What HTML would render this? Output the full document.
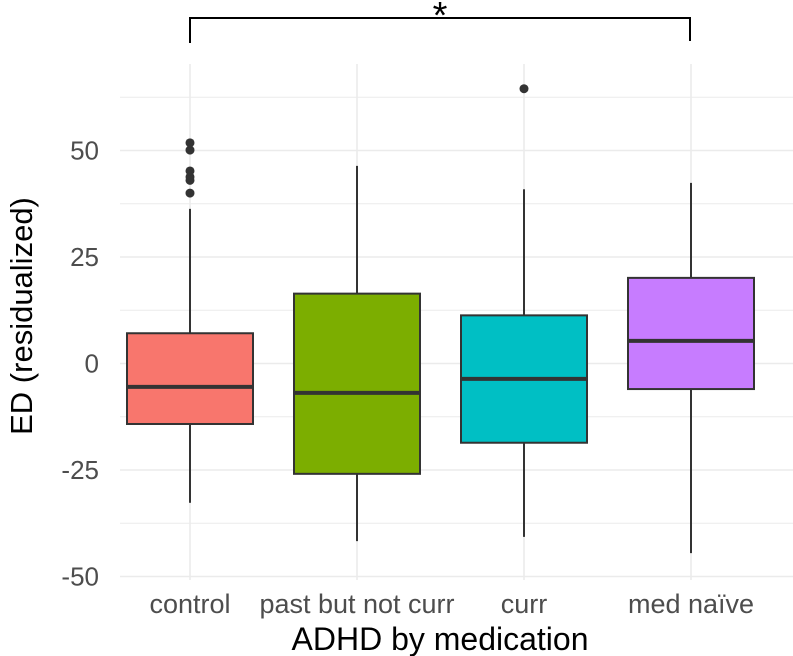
<!DOCTYPE html>
<html><head><meta charset="utf-8"><style>
body{margin:0;background:#fff}
svg{display:block;font-family:"Liberation Sans",Arial,sans-serif}
</style></head><body>
<svg id="chart" width="793" height="656" viewBox="0 0 793 656">
<g id="grid"></g><g id="boxes"></g><g id="axes"></g>
<g>
<path d="M190,43 V18 H690 V41" fill="none" stroke="#000" stroke-width="2"/>
<text x="440" y="28" font-size="38" text-anchor="middle" fill="#000">*</text>
</g>
<text transform="translate(32,316) rotate(-90)" font-size="31" text-anchor="middle" fill="#000">ED (residualized)</text>
<text x="440" y="650" font-size="32" text-anchor="middle" fill="#000">ADHD by medication</text>
</svg>
<script>
const categories=["control","past but not curr","curr","med naïve"];
const colors=["#F8766D","#7CAE00","#00BFC4","#C77CFF"];
const whiskerLow=[-32.7,-41.7,-40.7,-44.5];
const q1=[-14.2,-25.9,-18.6,-6.0];
const median=[-5.5,-6.9,-3.6,5.3];
const q3=[7.1,16.4,11.3,20.1];
const whiskerHigh=[36.3,46.4,40.9,42.4];
const outliers=[[40,43,43.8,45.2,50.1,51.8],[],[64.5],[]];
const yTicks=[-50,-25,0,25,50];
const NS="http://www.w3.org/2000/svg";
const y=v=>363.5-v*4.26;
const x=i=>190+i*167;
const halfW=63;
function mk(tag,attrs,parent){const e=document.createElementNS(NS,tag);for(const k in attrs)e.setAttribute(k,attrs[k]);parent.appendChild(e);return e;}
const grid=document.getElementById('grid'),boxes=document.getElementById('boxes'),axes=document.getElementById('axes');
const pTop=64,pBottom=580,pLeft=120,pRight=793;
for(let t=-50;t<=62.5;t+=12.5){
 const l=mk('line',{x1:pLeft,x2:pRight,y1:y(t),y2:y(t),stroke:'#ebebeb','stroke-width':(t%25===0)?1.6:0.9},grid);
 
 
}
categories.forEach((c,i)=>{
 const l=mk('line',{x1:x(i),x2:x(i),y1:pTop,y2:pBottom,stroke:'#ebebeb','stroke-width':1.6},grid);
 
 
});
yTicks.forEach(t=>{
 const tx=mk('text',{x:99,y:y(t)+9,'font-size':26,'text-anchor':'end',fill:'#4d4d4d'},axes);
 tx.textContent=t;
 
 
});
categories.forEach((c,i)=>{
 const g=mk('g',{},boxes);
 
 
 mk('line',{x1:x(i),x2:x(i),y1:y(whiskerHigh[i]),y2:y(q3[i]),stroke:'#333','stroke-width':2},g);
 mk('line',{x1:x(i),x2:x(i),y1:y(q1[i]),y2:y(whiskerLow[i]),stroke:'#333','stroke-width':2},g);
 mk('rect',{x:x(i)-halfW,y:y(q3[i]),width:2*halfW,height:y(q1[i])-y(q3[i]),fill:colors[i],stroke:'#333','stroke-width':2},g);
 mk('line',{x1:x(i)-halfW,x2:x(i)+halfW,y1:y(median[i]),y2:y(median[i]),stroke:'#333','stroke-width':4},g);
 outliers[i].forEach(o=>{
  const p=mk('circle',{cx:x(i),cy:y(o),r:4.5,fill:'#333'},g);
  
  
 });
 const tx=mk('text',{x:x(i),y:613,'font-size':27,'text-anchor':'middle',fill:'#4d4d4d'},axes);
 tx.textContent=c;
 
 
});
</script>
</body></html>
